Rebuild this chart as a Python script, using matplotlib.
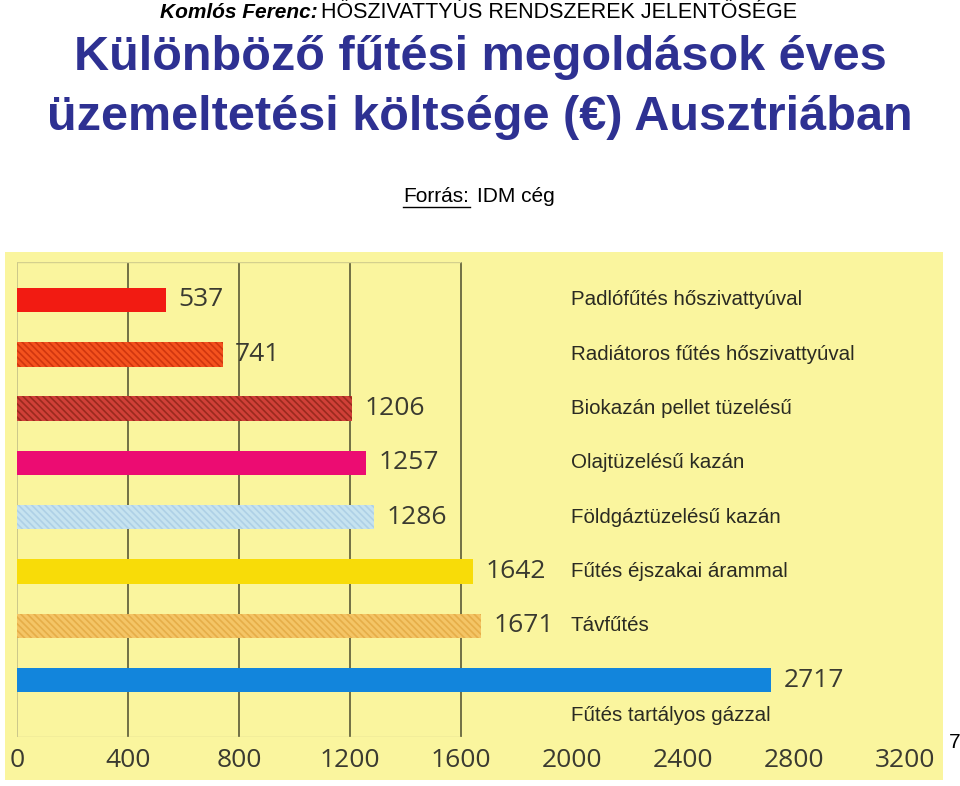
import numpy as np
import matplotlib
matplotlib.use("Agg")
import matplotlib.pyplot as plt
from matplotlib.patches import Rectangle

# data
labels = ["Padlófűtés hőszivattyúval", "Radiátoros fűtés hőszivattyúval",
          "Biokazán pellet tüzelésű", "Olajtüzelésű kazán",
          "Földgáztüzelésű kazán", "Fűtés éjszakai árammal",
          "Távfűtés", "Fűtés tartályos gázzal"]
values = [537, 741, 1206, 1257, 1286, 1642, 1671, 2717]
ticks = [0, 400, 800, 1200, 1600, 2000, 2400, 2800, 3200]
grid_at = [0, 400, 800, 1200, 1600]

face = ["#F21B12", "#F4521E", "#D04038", "#EC0C72",
        "#C6E3F0", "#F8DC08", "#F4C566", "#1285DC"]
hatch_col = [None, "#D0360F", "#9A2A1E", None,
             "#AED0E6", None, "#E6AE48", None]

W, H = 960, 786
fig = plt.figure(figsize=(W / 100, H / 100), dpi=100)
fig.patch.set_facecolor("white")

def fx(px):
    return px / W

def fy(py):
    return 1 - py / H

sans = ["Liberation Sans"]

# header
fig.text(fx(160), fy(13), "Komlós Ferenc:", family=sans, fontsize=15,
         fontweight="bold", style="italic", ha="left", va="center")
fig.text(fx(321), fy(13), "HŐSZIVATTYÚS RENDSZEREK JELENTŐSÉGE", family=sans,
         fontsize=15.5, ha="left", va="center")
title_col = "#2E3192"
fig.text(0.5, fy(58), "Különböző fűtési megoldások éves", family=sans,
         fontsize=35, fontweight="bold", color=title_col, ha="center", va="center")
fig.text(0.5, fy(117), "üzemeltetési költsége (€) Ausztriában", family=sans,
         fontsize=35, fontweight="bold", color=title_col, ha="center", va="center")
fig.text(fx(403), fy(196), "Forrás:", family=sans, fontsize=15,
         ha="left", va="center")
fig.text(fx(477), fy(196), "IDM cég", family=sans, fontsize=15,
         ha="left", va="center")
fig.add_artist(plt.Line2D([fx(403), fx(470)], [fy(207), fy(207)], color="black", lw=1))
fig.text(fx(955), fy(742), "7", family=sans, fontsize=15,
         ha="center", va="center")

# yellow panel
fig.add_artist(Rectangle((fx(5), fy(780)), fx(943) - fx(5), fy(252) - fy(780),
                         transform=fig.transFigure, facecolor="#FAF59E",
                         edgecolor="none", zorder=0))

# chart axes: x 0 -> px 17, 3200 -> px 905 ; y rows centred at 300 + 54.3*i
x0, x1 = 17, 905
top, bot = 262, 737
ax = fig.add_axes([fx(x0), fy(bot), fx(x1) - fx(x0), fy(top) - fy(bot)])
ax.patch.set_alpha(0)
ax.set_xlim(0, 3200)
step = 54.3
ax.set_ylim((bot - 300) / step, (top - 300) / step)
for s in ax.spines.values():
    s.set_visible(False)
ax.tick_params(length=0, labelsize=19, labelcolor="#3A3A30", pad=8)
ax.set_yticks([])
ax.set_xticks(ticks)
for lab in ax.get_xticklabels():
    lab.set_family("Open Sans")

gcol = "#66663E"
ymin, ymax = ax.get_ylim()
for g in grid_at:
    ax.vlines(g, ymax, ymin, color=gcol if g else "#C8C48A", lw=1.3, zorder=1)
ax.hlines([ymin, ymax], 0, 1600, color="#D4D08E", lw=1, zorder=1)

plt.rcParams["hatch.linewidth"] = 1.2
pos = np.arange(len(values))
for i, (v, fc, hc) in enumerate(zip(values, face, hatch_col)):
    ax.barh(pos[i], v, height=0.45, color=fc, edgecolor=hc if hc else fc,
            hatch="\\\\\\\\\\" if hc else None, lw=0, zorder=2)
    ax.text(v + 45, pos[i], str(v), fontsize=19, family="Open Sans",
            color="#3A3A30", ha="left", va="center", zorder=3)
    ly = pos[i] if i < len(values) - 1 else pos[i] + 0.66
    ax.text(1996, ly, labels[i], fontsize=14.8, family=sans,
            color="#2A2A22", ha="left", va="center", zorder=3)

fig.savefig("out.png", dpi=100)
